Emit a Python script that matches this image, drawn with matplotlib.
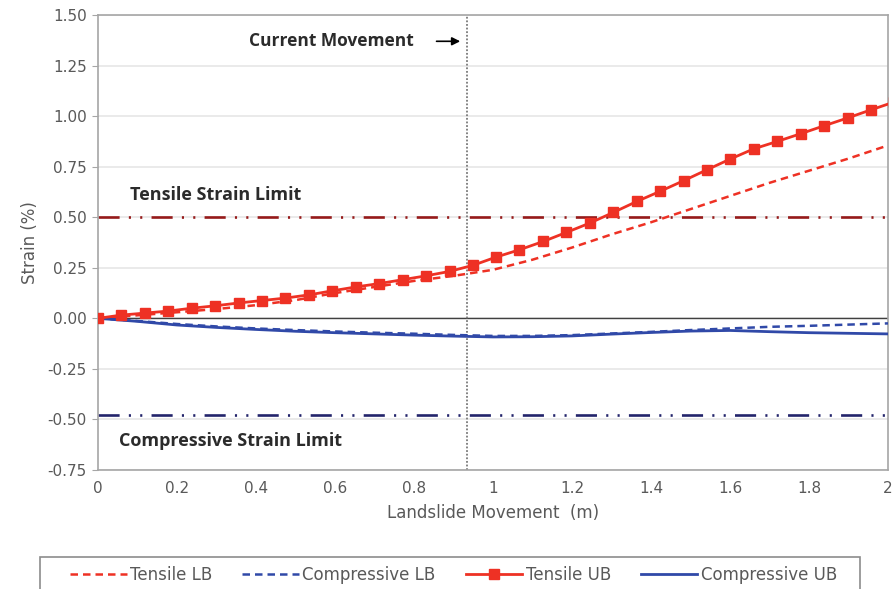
import matplotlib
matplotlib.use("Agg")
import matplotlib.pyplot as plt
from matplotlib.lines import Line2D
from matplotlib.patches import Rectangle

plt.rcParams['font.family'] = ['DejaVu Sans']

# Landslide movement (m) for the tensile upper-bound series (marker positions)
ub_x = [0.000, 0.059, 0.119, 0.178, 0.237, 0.297, 0.356, 0.415, 0.474, 0.534,
        0.593, 0.652, 0.712, 0.771, 0.830, 0.890, 0.949, 1.008, 1.067, 1.127,
        1.186, 1.245, 1.305, 1.364, 1.423, 1.483, 1.542, 1.601, 1.660, 1.720,
        1.779, 1.838, 1.898, 1.957, 2.016]
tensile_ub = [0.000, 0.016, 0.026, 0.036, 0.050, 0.062, 0.076, 0.088, 0.100, 0.116,
              0.136, 0.155, 0.172, 0.191, 0.210, 0.232, 0.262, 0.303, 0.339, 0.380,
              0.425, 0.471, 0.524, 0.578, 0.628, 0.681, 0.735, 0.788, 0.838, 0.875,
              0.913, 0.952, 0.991, 1.031, 1.070]

# Landslide movement (m) for the remaining series
mv = [0.0, 0.1, 0.2, 0.3, 0.4, 0.5, 0.6, 0.7, 0.8, 0.9, 1.0,
      1.1, 1.2, 1.3, 1.4, 1.5, 1.6, 1.7, 1.8, 1.9, 2.0]
tensile_lb = [0.000, 0.015, 0.030, 0.046, 0.065, 0.090, 0.125, 0.155, 0.185, 0.210, 0.240,
              0.290, 0.350, 0.415, 0.475, 0.540, 0.605, 0.670, 0.730, 0.790, 0.855]
compressive_lb = [0.000, -0.013, -0.028, -0.040, -0.050, -0.058, -0.065, -0.071, -0.076, -0.082, -0.087,
                  -0.087, -0.083, -0.075, -0.067, -0.058, -0.050, -0.042, -0.037, -0.031, -0.025]
compressive_ub = [0.000, -0.015, -0.033, -0.045, -0.055, -0.064, -0.071, -0.077, -0.083, -0.088, -0.092,
                  -0.091, -0.087, -0.078, -0.070, -0.063, -0.060, -0.066, -0.071, -0.074, -0.077]

tensile_limit = 0.50
compressive_limit = -0.48
current_movement = 0.934

y_ticks = [1.50, 1.25, 1.00, 0.75, 0.50, 0.25, 0.00, -0.25, -0.50, -0.75]
x_ticks = [0, 0.2, 0.4, 0.6, 0.8, 1, 1.2, 1.4, 1.6, 1.8, 2]
x_tick_labels = ['0', '0.2', '0.4', '0.6', '0.8', '1', '1.2', '1.4', '1.6', '1.8', '2']

RED = '#ee3124'
BLUE = '#3049a8'
GRID = '#e6e6e6'
SPINE = '#a6a6a6'
TXT = '#595959'
NOTE = '#2b2b2b'
NOTE_FONT = ['Open Sans', 'DejaVu Sans']

W, H = 892, 589
fig = plt.figure(figsize=(W / 100, H / 100), dpi=100)
ax = fig.add_axes([98 / W, 1 - 470 / H, 790 / W, 455 / H])

ax.set_xlim(0, 2)
ax.set_ylim(-0.75, 1.50)
ax.set_yticks(y_ticks)
ax.set_yticklabels([f'{v:.2f}' for v in y_ticks])
ax.set_xticks(x_ticks)
ax.set_xticklabels(x_tick_labels)
ax.tick_params(axis='x', length=0, pad=8, labelsize=11, colors=TXT)
ax.tick_params(axis='y', length=4, color=SPINE, pad=4, labelsize=11, labelcolor=TXT)
for s in ax.spines.values():
    s.set_color(SPINE)
    s.set_linewidth(1.2)
ax.yaxis.grid(True, color=GRID, linewidth=1.2)
ax.set_axisbelow(True)
ax.axhline(0, color='#404040', linewidth=1.0, zorder=1)

dash_dot_dot = (0, (8, 3.5, 0.8, 3.5, 0.8, 3.5))
ax.axhline(tensile_limit, color='#961a1a', linewidth=1.9, linestyle=dash_dot_dot, zorder=2)
ax.axhline(compressive_limit, color='#23246b', linewidth=1.9, linestyle=dash_dot_dot, zorder=2)
ax.axvline(current_movement, color='#7a7a7a', linewidth=1.3, linestyle=(0, (1, 1)), zorder=2)

ax.plot(mv, tensile_lb, color=RED, linewidth=1.8, linestyle=(0, (3, 2)), zorder=3, label='Tensile LB')
ax.plot(mv, compressive_lb, color=BLUE, linewidth=1.8, linestyle=(0, (3, 2)), zorder=3, label='Compressive LB')
ax.plot(ub_x, tensile_ub, color=RED, linewidth=2.0, marker='s', markersize=7.5,
        markeredgecolor=RED, zorder=4, label='Tensile UB', clip_on=True)
ax.plot(mv, compressive_ub, color=BLUE, linewidth=2.0, zorder=3, label='Compressive UB')

ax.text(0.08, 0.61, 'Tensile Strain Limit', fontsize=13, fontweight='bold', color=NOTE,
        va='center', ha='left', family=NOTE_FONT)
ax.text(0.053, -0.605, 'Compressive Strain Limit', fontsize=13, fontweight='bold', color=NOTE,
        va='center', ha='left', family=NOTE_FONT)
ax.text(0.80, 1.37, 'Current Movement', fontsize=12.5, fontweight='bold', color=NOTE,
        va='center', ha='right', family=NOTE_FONT)
ax.annotate('', xy=(current_movement - 0.01, 1.37), xytext=(0.85, 1.37),
            arrowprops=dict(arrowstyle='-|>', color='black', lw=1.2, mutation_scale=12))

ax.set_xlabel('Landslide Movement  (m)', fontsize=12, color=TXT, labelpad=6)
ax.set_ylabel('Strain (%)', fontsize=12, color=TXT, labelpad=6)

# Legend box: frame runs off the bottom edge of the figure
fig.patches.append(Rectangle((40 / W, -0.05), 820 / W, 0.05 + (H - 557) / H,
                             transform=fig.transFigure, facecolor='white',
                             edgecolor='#8c8c8c', linewidth=1.2, zorder=0))

handles = [
    Line2D([], [], color=RED, linewidth=1.8, linestyle=(0, (3, 2))),
    Line2D([], [], color=BLUE, linewidth=1.8, linestyle=(0, (3, 2))),
    Line2D([], [], color=RED, linewidth=2.0, marker='s', markersize=7),
    Line2D([], [], color=BLUE, linewidth=2.0),
]
labels = ['Tensile LB', 'Compressive LB', 'Tensile UB', 'Compressive UB']
leg = fig.legend(handles, labels, loc='center', ncol=4,
                 bbox_to_anchor=(453.5 / W, 1 - 575 / H),
                 borderaxespad=0, frameon=False, fontsize=12, handlelength=3.4,
                 handletextpad=0.2, columnspacing=1.8, borderpad=0, labelcolor=TXT)

fig.savefig('out.png', dpi=100)
